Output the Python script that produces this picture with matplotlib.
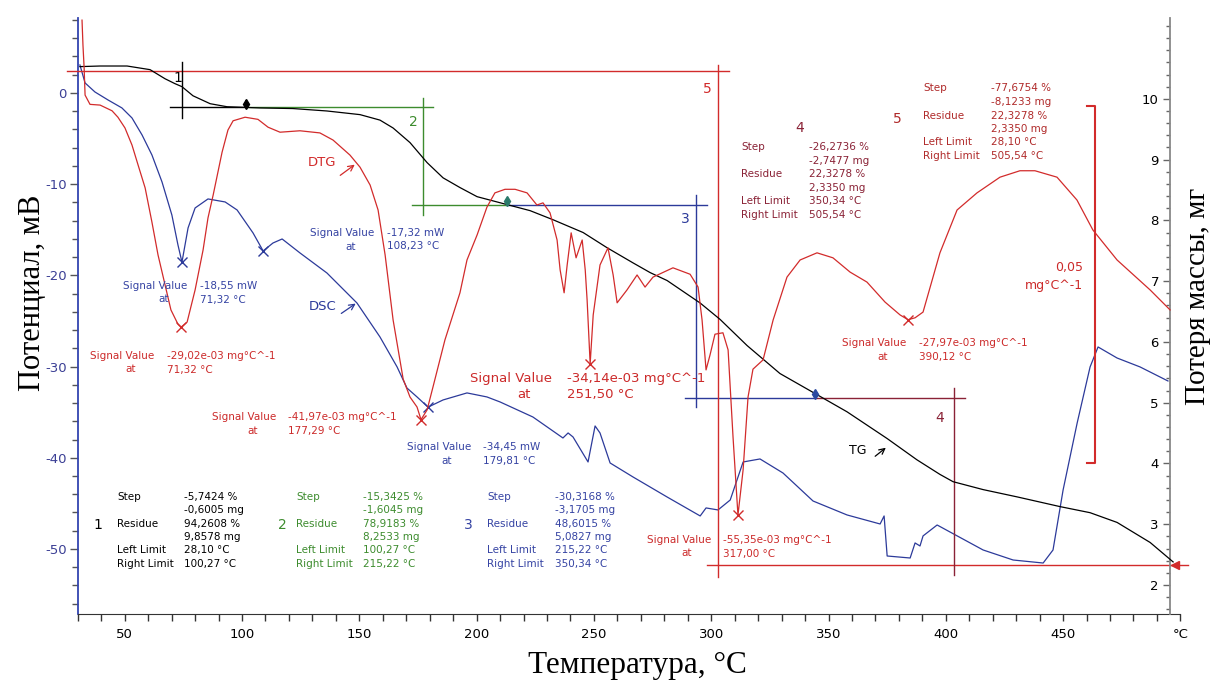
import matplotlib.pyplot as plt
from matplotlib.ticker import MultipleLocator

plt.rcParams['font.family'] = 'DejaVu Sans'
plt.rcParams['axes.unicode_minus'] = False

W, H = 1214, 684

# TG, mg
tg_t = [30.9, 39.5, 51.0, 60.8, 67.2, 71.4, 74.4, 79.1, 86.4, 93.6, 107.7, 121.7, 136.2, 150.3,
        158.8, 164.4, 171.6, 178.9, 185.7, 192.9, 200.2, 210.0, 222.8, 232.6, 245.4, 255.6,
        266.7, 274.0, 281.2, 295.3, 303.8, 315.3, 329.3, 344.3, 357.9, 375.0, 387.7, 397.5,
        403.1, 415.9, 430.4, 448.7, 461.5, 473.0, 487.1, 496.9]
tg_m = [10.53, 10.54, 10.54, 10.48, 10.33, 10.25, 10.20, 10.05, 9.92, 9.87, 9.85, 9.84, 9.80, 9.74,
        9.65, 9.52, 9.28, 8.95, 8.70, 8.54, 8.39, 8.29, 8.16, 8.01, 7.80, 7.55,
        7.30, 7.14, 7.01, 6.64, 6.37, 5.94, 5.48, 5.15, 4.85, 4.41, 4.06, 3.82,
        3.70, 3.57, 3.45, 3.29, 3.19, 3.03, 2.70, 2.38]

# DSC, mV
dsc_t = [30.9, 33.1, 37.3, 42.9, 48.8, 53.1, 57.4, 61.6, 65.9, 70.1, 72.7, 74.4, 77.0, 80.0,
         85.5, 92.8, 97.9, 104.7, 109.0, 113.2, 117.1, 124.7, 136.2, 149.0, 158.8, 166.1,
         170.3, 174.6, 179.3, 185.7, 195.9, 204.4, 210.0, 224.0, 236.8, 239.0, 241.1, 247.5,
         250.5, 252.6, 256.9, 266.7, 281.2, 295.3, 297.8, 302.9, 308.1, 313.6, 320.8, 330.6,
         343.4, 357.9, 372.0, 373.7, 375.0, 384.8, 386.9, 389.0, 390.3, 396.3, 401.8, 415.9,
         428.7, 441.5, 445.7, 450.0, 456.0, 461.5, 464.9, 473.0, 482.8, 494.7]
dsc_mv = [3.07, 1.10, 0.11, -0.77, -1.64, -2.74, -4.61, -6.80, -9.76, -13.38, -16.67, -18.55,
          -14.80, -12.61, -11.62, -11.95, -12.83, -15.35, -17.32, -16.45, -16.01, -17.54,
          -19.74, -23.03, -26.75, -30.04, -32.35, -33.33, -34.45, -33.66, -32.89, -33.33,
          -33.88, -35.53, -37.83, -37.28, -37.72, -40.46, -36.51, -37.28, -40.57, -42.11,
          -44.30, -46.38, -45.50, -45.72, -44.63, -40.46, -40.13, -41.67, -44.74, -46.27,
          -47.26, -46.38, -50.77, -50.99, -49.34, -49.67, -48.57, -47.37, -48.14, -50.11,
          -51.21, -51.54, -50.11, -43.53, -36.18, -30.04, -27.85, -29.06, -30.04, -31.58]

# DTG, 1e-3 mg/°C
dtg_t = [31.8, 32.2, 32.7, 33.1, 35.2, 39.5, 44.6, 47.1, 50.1, 53.1, 55.7, 58.7, 61.6, 64.2,
         67.2, 69.7, 72.7, 74.0, 76.6, 80.0, 83.4, 85.5, 87.7, 91.5, 94.0, 96.2, 101.3, 106.8,
         111.1, 116.2, 124.7, 133.2, 138.8, 146.0, 150.3, 154.6, 158.0, 161.0, 164.4, 168.7,
         171.6, 174.6, 176.3, 178.9, 181.4, 186.5, 192.9, 195.9, 200.2, 204.4, 207.8, 212.1,
         216.4, 221.5, 225.7, 228.3, 231.3, 234.3, 235.6, 237.3, 238.6, 240.3, 242.4, 245.0,
         246.3, 247.1, 248.4, 249.7, 252.6, 256.0, 258.2, 259.9, 264.1, 268.4, 271.8, 275.2,
         283.7, 291.0, 294.4, 296.1, 297.8, 299.5, 301.6, 305.0, 307.2, 309.3, 311.4, 313.6,
         315.7, 317.8, 322.1, 326.4, 332.3, 337.9, 345.1, 351.9, 359.2, 366.4, 374.1, 380.5,
         383.9, 386.9, 390.3, 397.5, 404.8, 413.3, 423.1, 431.6, 438.0, 447.4, 455.9, 462.7,
         473.0, 487.1, 495.6]
dtg_v = [14.0, 10.5, 7.3, 3.5, 2.2, 2.1, 1.3, 0.4, -1.1, -3.5, -6.3, -9.5, -14.3, -18.9,
         -23.1, -26.6, -28.6, -29.02, -28.3, -23.8, -18.2, -13.7, -10.5, -4.5, -1.4, -0.1, 0.4, 0.1,
         -1.0, -1.7, -1.5, -1.8, -2.8, -4.9, -6.6, -9.1, -12.6, -18.9, -28.0, -36.3,
         -38.8, -40.2, -41.97, -40.6, -37.4, -30.8, -24.2, -19.6, -16.1, -12.2, -10.2, -9.7,
         -9.7, -10.2, -11.9, -11.6, -13.0, -16.8, -21.0, -24.2, -20.3, -15.8, -19.3, -16.8,
         -21.0, -25.2, -34.14, -27.3, -20.3, -17.9, -21.7, -25.6, -23.8, -21.7, -23.4, -22.0,
         -20.7, -21.6, -23.4, -28.0, -35.0, -32.9, -30.0, -29.8, -32.2, -44.4, -55.35, -49.0,
         -38.8, -34.9, -33.6, -28.0, -22.0, -19.6, -18.6, -19.3, -21.3, -22.7, -25.5, -27.3,
         -27.97, -27.7, -26.9, -18.6, -12.6, -10.2, -8.0, -7.1, -7.1, -8.0, -11.2, -15.4,
         -19.6, -23.8, -26.6]

dsc_pk_t = [74.4, 109.0, 179.3]
dsc_pk_v = [-18.55, -17.32, -34.45]
dtg_pk_t = [74.0, 176.3, 248.4, 311.4, 383.9]
dtg_pk_v = [-29.02, -41.97, -34.14, -55.35, -27.97]

# step analysis overlay (TG units)
res_mg = [10.458, 9.8578, 8.2533, 5.0827, 2.3350]
h_y = [10.458, 2.335, 5.0827, 5.0827, 8.2533, 8.2533, 9.8578, 9.8578]
h_x0 = [25.4, 298.2, 288.8, 344.3, 172.5, 213.0, 69.3, 101.7]
h_x1 = [307.6, 503.2, 344.3, 408.2, 213.0, 298.2, 101.7, 181.4]
v_x = [302.9, 403.5, 293.7, 177.2, 74.4]
v_y0 = [10.56, 5.24, 8.42, 10.02, 10.61]
v_y1 = [2.13, 2.16, 4.93, 8.09, 9.69]
mk_t = [101.7, 213.0, 344.3]
mk_m = [9.8578, 8.2533, 5.0827]

RED = '#d22b2b'
TRED = '#cc2a2a'
MAROON = '#8a2236'
BLUE = '#2c3a9a'
TBLUE = '#3543a3'
GREEN = '#3d8c2e'

fig = plt.figure(figsize=(W / 100, H / 100), dpi=100)
ax = fig.add_axes([77.8 / W, 70 / H, 1102.6 / W, 596 / H])
ax2 = ax.twinx()
ax3 = ax.twinx()

ax.set_xlim(30, 500)
ax.set_ylim(-57.13, 8.22)
ax2.set_ylim(1.523, 11.33)
ax3.set_ylim(-69.2, 14.3)
ax3.set_axis_off()

for a in (ax, ax2):
    a.spines['top'].set_visible(False)
ax.spines['right'].set_visible(False)
ax2.spines['left'].set_visible(False)
ax2.spines['bottom'].set_visible(False)
ax.spines['left'].set_color('#3344b0')
ax.spines['left'].set_linewidth(1.3)
ax.spines['bottom'].set_color('#333333')
ax2.spines['right'].set_position(('axes', 0.9906))
ax2.spines['right'].set_color('#888888')
ax2.spines['right'].set_linewidth(1.3)

xt = list(range(50, 501, 50))
ax.set_xticks(xt)
ax.set_xticklabels([str(v) for v in xt[:-1]] + ['°C'])
ax.xaxis.set_minor_locator(MultipleLocator(10))
ax.tick_params(axis='x', which='both', direction='out', length=5, width=1,
               color='#333333', labelsize=9.5, pad=5)

ax.set_yticks([0, -10, -20, -30, -40, -50])
ax.yaxis.set_minor_locator(MultipleLocator(2))
ax.tick_params(axis='y', which='major', direction='out', length=6, width=1,
               color='#555555', labelsize=9.5, labelcolor='#3b3f95', pad=2)
ax.tick_params(axis='y', which='minor', direction='out', length=4.5, width=1, color='#555555')

ax2.set_yticks(range(2, 11))
ax2.yaxis.set_minor_locator(MultipleLocator(0.2))
ax2.tick_params(axis='y', which='major', direction='in', length=5, width=1,
                color='#666666', labelsize=9.5, pad=-8)
ax2.tick_params(axis='y', which='minor', direction='in', length=3, width=1, color='#666666')
for t in ax2.get_yticklabels():
    t.set_horizontalalignment('right')

# curves
ax.plot(dsc_t, dsc_mv, color=BLUE, lw=0.9, zorder=3)
ax2.plot(tg_t, tg_m, color='black', lw=0.9, zorder=3)
ax3.plot(dtg_t, dtg_v, color=RED, lw=0.9, zorder=3)
ax.plot(dsc_pk_t, dsc_pk_v, 'x', color=BLUE, ms=7, mew=1)
ax3.plot(dtg_pk_t, dtg_pk_v, 'x', color=RED, ms=7, mew=1)

# step overlay
h_col = [RED, RED, BLUE, MAROON, GREEN, BLUE, 'black', GREEN]
for y, x0, x1, c in zip(h_y, h_x0, h_x1, h_col):
    ax2.plot([x0, x1], [y, y], color=c, lw=1.0, clip_on=False, zorder=2)
v_col = [RED, MAROON, BLUE, GREEN, 'black']
for x, y0, y1, c in zip(v_x, v_y0, v_y1, v_col):
    ax2.plot([x, x], [y0, y1], color=c, lw=1.0, clip_on=False, zorder=2)
for t, m, c in zip(mk_t, mk_m, ['black', '#2a7a6a', '#2c4aa0']):
    ax2.plot([t], [m + 0.06], marker='d', color=c, ms=5, zorder=4)
    ax2.plot([t, t], [m, m + 0.1], color=c, lw=1.2, zorder=4)
ax2.plot([497.7], [res_mg[-1]], marker='<', color=RED, ms=6, clip_on=False, zorder=4)

# DTG scale bar 0,05 mg/°C
ax3.plot([460.2, 463.6, 463.6, 460.2], [2.0, 2.0, -48.0, -48.0], color=RED, lw=1.5)


def ftxt(x, y, s, **kw):
    kw.setdefault('va', 'center')
    kw.setdefault('fontsize', 7.5)
    fig.text(x / W, 1 - y / H, s, **kw)


def signal(xc, xv, y, val, temp, color, dy=13.5, size=7.5, off=8):
    ftxt(xc, y, 'Signal Value', ha='center', color=color, fontsize=size)
    ftxt(xc + off, y + dy, 'at', ha='center', color=color, fontsize=size)
    ftxt(xv, y, val, ha='left', color=color, fontsize=size)
    ftxt(xv, y + dy, temp, ha='left', color=color, fontsize=size)


signal(155.5, 200, 286, '-18,55 mW', '71,32 °C', TBLUE)
signal(342.5, 387, 233, '-17,32 mW', '108,23 °C', TBLUE)
signal(439, 483, 447, '-34,45 mW', '179,81 °C', TBLUE, dy=14)
signal(122.5, 167, 356, '-29,02e-03 mg°C^-1', '71,32 °C', TRED)
signal(244.5, 288, 417, '-41,97e-03 mg°C^-1', '177,29 °C', TRED, dy=14)
signal(510.5, 567, 378, '-34,14e-03 mg°C^-1', '251,50 °C', TRED, dy=16, size=9.5, off=13)
signal(679, 723, 540, '-55,35e-03 mg°C^-1', '317,00 °C', TRED)
signal(874.5, 919, 343, '-27,97e-03 mg°C^-1', '390,12 °C', TRED, dy=14)


def block(num, xn, yn, xl, xv, rows, vals, color):
    ftxt(xn, yn, num, ha='center', color=color, fontsize=10)
    labels = ['Step', '', 'Residue', '', 'Left Limit', 'Right Limit']
    for y, lab, v in zip(rows, labels, vals):
        if lab:
            ftxt(xl, y, lab, ha='left', color=color)
        ftxt(xv, y, v, ha='left', color=color)


rows_low = [497, 510, 524, 537, 550, 564]
block('1', 98, 525, 117, 184, rows_low,
      ['-5,7424 %', '-0,6005 mg', '94,2608 %', '9,8578 mg', '28,10 °C', '100,27 °C'], 'black')
block('2', 282, 525, 296, 363, rows_low,
      ['-15,3425 %', '-1,6045 mg', '78,9183 %', '8,2533 mg', '100,27 °C', '215,22 °C'], GREEN)
block('3', 468, 525, 487, 555, rows_low,
      ['-30,3168 %', '-3,1705 mg', '48,6015 %', '5,0827 mg', '215,22 °C', '350,34 °C'], TBLUE)
block('4', 800, 128, 741, 809, [147, 161, 174, 188, 201, 215],
      ['-26,2736 %', '-2,7477 mg', '22,3278 %', '2,3350 mg', '350,34 °C', '505,54 °C'], MAROON)
block('5', 897, 119, 923, 991, [88, 102, 116, 129, 142, 156],
      ['-77,6754 %', '-8,1233 mg', '22,3278 %', '2,3350 mg', '28,10 °C', '505,54 °C'], '#b02a2a')

# overlay step numbers
ftxt(178, 78, '1', ha='center', color='black', fontsize=10)
ftxt(413, 122, '2', ha='center', color=GREEN, fontsize=10)
ftxt(685, 219, '3', ha='center', color=BLUE, fontsize=10)
ftxt(707, 89, '5', ha='center', color=RED, fontsize=10)
ftxt(940, 418, '4', ha='center', color=MAROON, fontsize=10)

# scale bar label
ftxt(1083, 267, '0,05', ha='right', color=TRED, fontsize=9)
ftxt(1083, 285, 'mg°C^-1', ha='right', color=TRED, fontsize=9)

# curve labels with arrows
ftxt(322, 162, 'DTG', ha='center', color=RED, fontsize=9.5)
ftxt(323, 307, 'DSC', ha='center', color=BLUE, fontsize=9.5)
ftxt(858, 450, 'TG', ha='center', color='black', fontsize=9)
for x1, y1, x2, y2, c in [(338, 177, 357, 163, RED), (339, 315, 358, 302, BLUE),
                          (873, 458, 888, 446, 'black')]:
    ax.annotate('', xy=(x2, H - y2), xytext=(x1, H - y1), xycoords='figure pixels',
                textcoords='figure pixels',
                arrowprops=dict(arrowstyle='->', color=c, lw=0.9, mutation_scale=10))

# axis titles
serif = ['Liberation Serif', 'DejaVu Serif']
ftxt(637, 665, 'Температура, °C', ha='center', fontsize=22.5, family=serif)
ftxt(33, 293, 'Потенциал, мВ', ha='center', rotation=90, fontsize=22, family=serif)
ftxt(1198, 296, 'Потеря массы, мг', ha='center', rotation=90, fontsize=21, family=serif)

fig.savefig('out.png', dpi=100)
